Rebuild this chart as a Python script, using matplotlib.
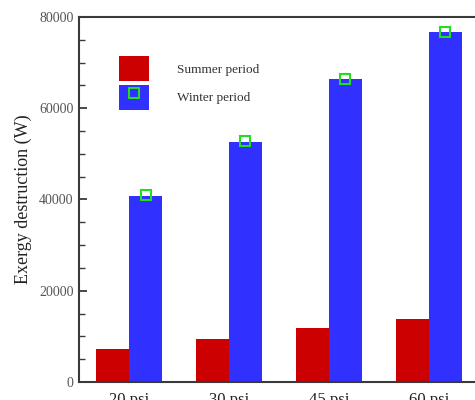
import numpy as np
import matplotlib
matplotlib.use("Agg")
import matplotlib.pyplot as plt
from matplotlib.patches import Patch
from matplotlib.lines import Line2D
from matplotlib.legend_handler import HandlerTuple
from matplotlib.ticker import MultipleLocator

plt.rcParams['font.family'] = ['Liberation Serif', 'DejaVu Serif']

pressures = ["20 psi", "30 psi", "45 psi", "60 psi"]
summer = [7250, 9350, 11850, 13750]
winter = [40750, 52650, 66350, 76650]
winter_marker = [41000, 52800, 66500, 76800]

red = "#cc0000"
blue = "#3030ff"
green = "#22dd22"
spine_col = "#3a3a3a"

fig = plt.figure(figsize=(4.75, 4.0), dpi=100)
ax = fig.add_axes([79 / 475, 18 / 400, 400 / 475, 365 / 400])

x = np.arange(1, len(pressures) + 1)
w = 0.33
ax.bar(x - w / 2, summer, width=w, color=red, edgecolor="none")
ax.bar(x + w / 2, winter, width=w, color=blue, edgecolor="none")
ax.plot(x + w / 2, winter_marker, linestyle="none", marker="s", markersize=7,
        markerfacecolor="none", markeredgecolor=green, markeredgewidth=1.5)

ax.set_xlim(0.5, 4.5)
ax.set_ylim(0, 80000)
ax.set_xticks(x)
ax.set_xticklabels(pressures, fontsize=12, color="#222222")
ax.yaxis.set_major_locator(MultipleLocator(20000))
ax.yaxis.set_minor_locator(MultipleLocator(5000))
ax.tick_params(axis="y", which="major", direction="in", length=5.5, width=1.3,
               color=spine_col, labelsize=10, labelcolor="#555555", pad=4)
ax.tick_params(axis="y", which="minor", direction="in", length=4, width=1.0,
               color=spine_col)
ax.tick_params(axis="x", length=0, pad=7)

for s in ax.spines.values():
    s.set_color(spine_col)
    s.set_linewidth(1.5)

ax.set_ylabel("Exergy destruction (W)", fontsize=13, color="#222222")
ax.yaxis.set_label_coords(-0.118, 0.5)

h_summer = Patch(facecolor=red, edgecolor="none")
h_winter = (Patch(facecolor=blue, edgecolor="none"),
            Line2D([], [], linestyle="none", marker="s", markersize=7,
                   markerfacecolor="none", markeredgecolor=green, markeredgewidth=1.5))
ax.legend([h_summer, h_winter], ["Summer period", "Winter period"],
          handler_map={tuple: HandlerTuple(ndivide=1, pad=0)},
          loc="upper left", bbox_to_anchor=(0.1, 0.892), borderaxespad=0, borderpad=0,
          frameon=False, fontsize=9.5, handlelength=2.3, handleheight=2.45,
          labelspacing=0.35, handletextpad=2.1, labelcolor="#333333")

fig.savefig("out.png", dpi=100)
